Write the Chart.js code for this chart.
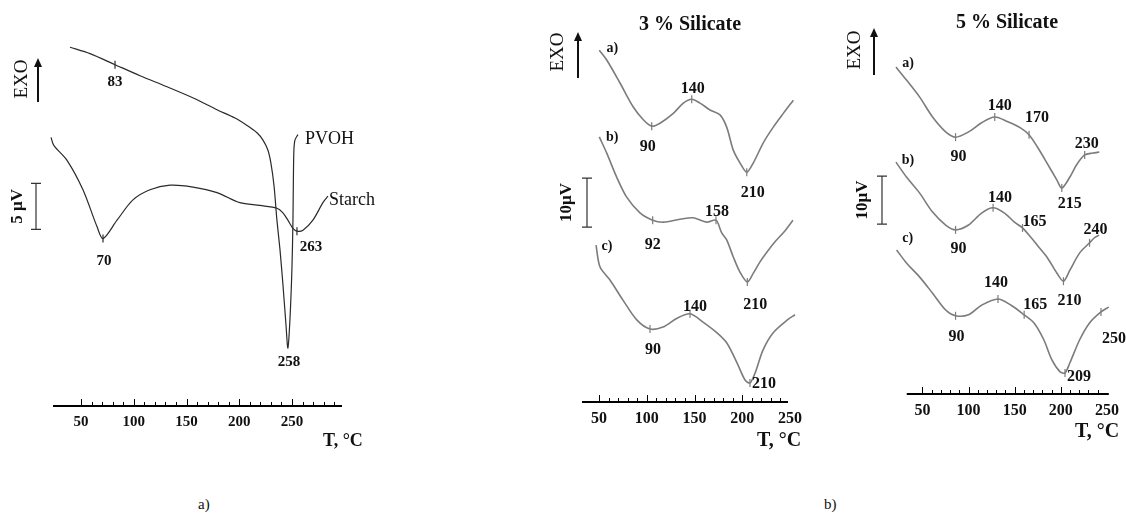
<!DOCTYPE html>
<html>
<head>
<meta charset="utf-8">
<script src="https://cdn.jsdelivr.net/npm/chart.js@4.4.1/dist/chart.umd.min.js"></script>
<style>
  html, body { margin: 0; padding: 0; background: #fff; }
  #wrap { position: relative; width: 1126px; height: 524px; overflow: hidden; background: #fff; }
  #wrap canvas { position: absolute; top: 0; }
  .cap { position: absolute; font: 15px 'Liberation Serif', 'DejaVu Serif', serif; color: #111; }
</style>
</head>
<body>
<div id="wrap">
  <canvas id="chartA" width="400" height="470" style="left:0px"></canvas>
  <canvas id="chartB3" width="290" height="470" style="left:540px"></canvas>
  <canvas id="chartB5" width="286" height="470" style="left:840px"></canvas>
  <div class="cap" style="left:198px; top:496px">a)</div>
  <div class="cap" style="left:824px; top:496px">b)</div>
</div>
<script>
// --- 1. Data (T in °C, DSC signal in µV with arbitrary zero) ---

// a) pure PVOH and pure starch
const pvohT = [39.5, 58.5, 82.2, 105.9, 131.5, 158.0, 178.9, 195.9, 207.3, 216.8, 222.5, 227.2, 230.0, 232.9, 235.7, 238.6, 241.4, 244.3, 246.1, 248.0, 249.9, 250.9, 251.3, 251.8, 252.8, 255.6];
const pvohV = [39.0, 38.3, 37.1, 35.9, 34.7, 33.4, 32.2, 31.3, 30.5, 29.7, 28.9, 27.8, 26.4, 24.0, 20.2, 17.0, 13.2, 8.8, 6.3, 9.3, 14.8, 20.2, 24.6, 27.8, 28.9, 29.5];
const pvohPeaks = [82.2, 246.1];
const pvohPeakText = ['83', '258'];

const starchT = [21.5, 24.3, 36.7, 51.8, 65.1, 70.8, 84.1, 99.2, 115.3, 134.3, 156.1, 178.9, 200.6, 219.6, 235.7, 241.4, 246.1, 250.9, 254.7, 260.4, 269.8, 279.3, 284.1];
const starchV = [29.2, 28.3, 26.7, 23.5, 19.5, 18.2, 20.2, 22.4, 23.5, 24.0, 23.8, 23.2, 22.1, 21.8, 21.5, 21.0, 20.2, 19.3, 19.0, 19.1, 20.2, 22.1, 22.8];
const starchPeaks = [70.8, 254.7];
const starchPeakText = ['70', '263'];

// b) 3 % silicate, samples a), b), c)
const sil3aT = [50.3, 58.1, 72.0, 85.9, 96.4, 105.2, 113.9, 127.8, 138.3, 147.1, 155.8, 166.2, 176.7, 183.7, 190.6, 197.6, 204.7, 211.6, 222.0, 232.5, 243.0, 253.5];
const sil3aV = [71.8, 69.8, 65.1, 60.2, 57.6, 56.3, 56.9, 58.9, 61.0, 61.8, 61.0, 59.6, 58.6, 56.1, 51.4, 48.8, 46.9, 48.8, 52.9, 56.1, 58.9, 61.6];
const sil3aPeaks = [105.2, 147.1, 204.7];
const sil3aPeakText = ['90', '140', '210'];

const sil3bT = [50.3, 58.1, 68.5, 79.0, 92.9, 106.2, 117.3, 134.8, 148.7, 162.8, 172.5, 178.5, 183.7, 190.6, 197.6, 205.3, 211.6, 218.6, 225.9, 234.3, 243.7, 253.1];
const sil3bV = [54.1, 50.8, 45.9, 41.8, 38.6, 37.1, 36.7, 37.3, 37.6, 36.7, 37.1, 34.5, 33.1, 29.6, 26.5, 24.5, 26.3, 28.6, 30.6, 32.7, 34.7, 37.1];
const sil3bPeaks = [106.2, 172.5, 205.3];
const sil3bPeakText = ['92', '158', '210'];

const sil3cT = [46.9, 51.0, 61.5, 75.1, 89.8, 103.4, 117.0, 131.7, 145.3, 158.9, 173.6, 184.0, 194.5, 202.9, 208.1, 213.4, 221.7, 232.2, 246.9, 255.2];
const sil3cV = [32.0, 27.6, 24.9, 20.8, 16.7, 14.9, 15.3, 17.1, 18.0, 16.3, 14.1, 12.0, 8.0, 4.5, 3.9, 5.9, 10.6, 14.1, 16.7, 17.8];
const sil3cPeaks = [103.4, 145.3, 208.1];
const sil3cPeakText = ['90', '140', '210'];

// b) 5 % silicate, samples a), b), c)
const sil5aT = [21.3, 32.7, 46.8, 61.0, 75.2, 85.9, 100.0, 114.1, 128.4, 142.6, 156.7, 165.6, 174.5, 185.1, 195.7, 201.1, 209.9, 217.0, 225.9, 234.8, 241.8];
const sil5aV = [68.1, 65.4, 61.9, 57.7, 54.6, 53.5, 54.6, 56.5, 57.7, 56.7, 55.4, 54.0, 51.5, 48.1, 44.6, 42.9, 45.2, 47.7, 49.8, 50.2, 50.4];
const sil5aPeaks = [85.9, 128.4, 165.6, 201.1, 225.9];
const sil5aPeakText = ['90', '140', '170', '215', '230'];

const sil5bT = [21.3, 32.7, 46.8, 61.0, 75.2, 85.9, 100.0, 114.1, 126.6, 139.0, 149.7, 158.5, 167.3, 174.5, 185.1, 195.7, 202.9, 209.9, 220.5, 231.2, 236.2, 241.5];
const sil5bV = [48.3, 45.2, 41.9, 37.9, 35.2, 34.2, 35.2, 37.7, 38.8, 37.7, 35.8, 34.6, 32.7, 31.0, 28.5, 25.2, 23.5, 25.8, 29.4, 31.5, 32.5, 33.1];
const sil5bPeaks = [85.9, 126.6, 158.5, 202.9, 231.2];
const sil5bPeakText = ['90', '140', '165', '210', '240'];

const sil5cT = [22.0, 32.7, 46.8, 61.0, 75.2, 85.9, 100.0, 114.1, 131.9, 146.1, 160.3, 171.0, 181.6, 190.4, 199.3, 204.6, 209.9, 220.5, 231.2, 243.6, 252.1];
const sil5cV = [30.0, 27.3, 24.4, 21.0, 17.5, 16.3, 16.5, 18.5, 19.8, 18.5, 16.5, 14.8, 11.3, 7.1, 4.6, 4.4, 6.5, 11.3, 14.8, 17.1, 18.1];
const sil5cPeaks = [85.9, 131.9, 160.3, 204.6, 243.6];
const sil5cPeakText = ['90', '140', '165', '209', '250'];

const tempTicks = [50, 100, 150, 200, 250];

// --- 2. Fonts and helpers ---
const SERIF = "'Liberation Serif', 'DejaVu Serif', serif";
const zip = (t, v) => t.map((x, i) => ({ x: x, y: v[i] }));

// draws the axis line, its ticks, peak ticks, peak temperatures, curve names, EXO arrow, scale bar, titles
const panelMarks = {
  id: 'panelMarks',
  afterDatasetsDraw(chart, args, o) {
    const { ctx, chartArea, scales: { x, y } } = chart;
    const base = chartArea.bottom;
    ctx.save();

    // temperature axis line (shorter than the plotting range)
    ctx.strokeStyle = '#000';
    ctx.lineWidth = 2;
    ctx.beginPath();
    ctx.moveTo(x.getPixelForValue(o.axisFrom), base);
    ctx.lineTo(x.getPixelForValue(o.axisTo), base);
    ctx.stroke();

    // small upward tick marks along the temperature axis
    ctx.lineWidth = 1;
    for (let t = o.ticksFrom; t <= o.ticksTo; t += 10) {
      const px = Math.round(x.getPixelForValue(t)) + 0.5;
      const len = t % 50 === 0 ? 6 : 3;
      ctx.beginPath();
      ctx.moveTo(px, base - 1);
      ctx.lineTo(px, base - 1 - len);
      ctx.stroke();
    }

    chart.data.datasets.forEach(ds => {
      ctx.textAlign = 'center';
      ctx.textBaseline = 'middle';
      ds.peaks.forEach((t, i) => {
        const pt = ds.data.find(p => p.x === t);
        const px = x.getPixelForValue(pt.x);
        const py = y.getPixelForValue(pt.y);
        if (ds.peakTicks[i]) {
          ctx.strokeStyle = ds.borderColor;
          ctx.lineWidth = 1.2;
          ctx.beginPath();
          ctx.moveTo(px, py - 4);
          ctx.lineTo(px, py + 4);
          ctx.stroke();
        }
        const off = ds.labelOffsets[i];
        ctx.fillStyle = '#111';
        ctx.font = o.peakFont;
        ctx.fillText(ds.peakText[i], px + off[0], py + off[1]);
      });
      if (ds.name) {
        const pt = ds.nameAt === 'last' ? ds.data[ds.data.length - 1] : ds.data[0];
        ctx.font = ds.nameFont;
        ctx.fillStyle = '#111';
        ctx.textAlign = ds.nameAt === 'last' ? 'left' : 'center';
        ctx.fillText(ds.name, x.getPixelForValue(pt.x) + ds.nameOffset[0], y.getPixelForValue(pt.y) + ds.nameOffset[1]);
      }
    });

    // EXO label and arrow
    const e = o.exo;
    ctx.fillStyle = '#111';
    ctx.font = '19px ' + SERIF;
    ctx.textAlign = 'center';
    ctx.textBaseline = 'middle';
    ctx.save();
    ctx.translate(e.textX, e.textY);
    ctx.rotate(-Math.PI / 2);
    ctx.fillText('EXO', 0, 0);
    ctx.restore();
    ctx.strokeStyle = '#111';
    ctx.lineWidth = 2;
    ctx.beginPath();
    ctx.moveTo(e.arrowX, e.bottom);
    ctx.lineTo(e.arrowX, e.top + 6);
    ctx.stroke();
    ctx.beginPath();
    ctx.moveTo(e.arrowX, e.top);
    ctx.lineTo(e.arrowX - 4, e.top + 9);
    ctx.lineTo(e.arrowX + 4, e.top + 9);
    ctx.closePath();
    ctx.fill();

    // signal scale bar
    const b = o.bar;
    const y0 = y.getPixelForValue(b.v0), y1 = y.getPixelForValue(b.v1);
    ctx.strokeStyle = '#333';
    ctx.lineWidth = 1.2;
    ctx.beginPath();
    ctx.moveTo(b.x, y0); ctx.lineTo(b.x, y1);
    ctx.moveTo(b.x - 5, y0); ctx.lineTo(b.x + 5, y0);
    ctx.moveTo(b.x - 5, y1); ctx.lineTo(b.x + 5, y1);
    ctx.stroke();
    ctx.save();
    ctx.translate(b.textX, (y0 + y1) / 2);
    ctx.rotate(-Math.PI / 2);
    ctx.font = 'bold 17px ' + SERIF;
    ctx.fillText(b.text, 0, 0);
    ctx.restore();

    // panel title and axis title
    if (o.title) {
      ctx.font = 'bold 20px ' + SERIF;
      ctx.textAlign = 'center';
      ctx.fillText(o.title.text, o.title.x, o.title.y);
    }
    ctx.font = o.axisTitle.font;
    ctx.textAlign = 'left';
    ctx.fillText('T, °C', o.axisTitle.x, o.axisTitle.y);
    ctx.restore();
  }
};

// --- 3. Chart builder ---
function makePanel(canvasId, cfg) {
  return new Chart(document.getElementById(canvasId), {
    type: 'line',
    data: {
      datasets: cfg.curves.map(c => ({
        data: zip(c.t, c.v),
        borderColor: cfg.lineColor,
        borderWidth: cfg.lineWidth,
        pointRadius: 0,
        tension: 0.3,
        fill: false,
        clip: false,
        peaks: c.peaks,
        peakText: c.peakText,
        peakTicks: c.peakTicks,
        labelOffsets: c.labelOffsets,
        name: c.name,
        nameAt: c.nameAt,
        nameFont: c.nameFont,
        nameOffset: c.nameOffset
      }))
    },
    options: {
      responsive: false,
      animation: false,
      events: [],
      layout: { padding: cfg.padding },
      plugins: {
        legend: { display: false },
        tooltip: { enabled: false },
        panelMarks: cfg.marks
      },
      scales: {
        x: {
          type: 'linear',
          min: cfg.tMin,
          max: cfg.tMax,
          afterBuildTicks: s => { s.ticks = tempTicks.map(v => ({ value: v })); },
          afterFit: s => { s.height = 60; },
          grid: { display: false, drawTicks: false },
          border: { display: false },
          ticks: { font: { family: SERIF, weight: 'bold', size: cfg.tickSize }, color: '#111', padding: 7, maxRotation: 0 }
        },
        y: { type: 'linear', display: false, min: 0, max: cfg.vMax }
      }
    },
    plugins: [panelMarks]
  });
}

const ALL = [true, true, true, true, true];

// a) PVOH / Starch
makePanel('chartA', {
  tMin: 21.0, tMax: 297.4, vMax: 40, tickSize: 15,
  padding: { left: 50.47, right: 58, top: 38, bottom: 4 },
  lineColor: '#2a2a2a', lineWidth: 1.2,
  curves: [
    { t: pvohT, v: pvohV, peaks: pvohPeaks, peakText: pvohPeakText, peakTicks: [true, false],
      labelOffsets: [[0, 17], [1, 14]],
      name: 'PVOH', nameAt: 'last', nameFont: '18px ' + SERIF, nameOffset: [7, 5] },
    { t: starchT, v: starchV, peaks: starchPeaks, peakText: starchPeakText, peakTicks: [true, true],
      labelOffsets: [[1, 23], [14, 16]],
      name: 'Starch', nameAt: 'last', nameFont: '18px ' + SERIF, nameOffset: [1, 4] }
  ],
  marks: {
    peakFont: 'bold 15px ' + SERIF, ticksFrom: 50, ticksTo: 290, axisFrom: 23.4, axisTo: 297.4,
    exo: { textX: 22, textY: 79, arrowX: 38, top: 58, bottom: 102 },
    bar: { x: 36, v0: 19.2, v1: 24.2, text: '5 µV', textX: 18 },
    axisTitle: { x: 323, y: 441, font: 'bold 18px ' + SERIF }
  }
});

// b) 3 % Silicate
makePanel('chartB3', {
  tMin: 32.2, tMax: 247.9, vMax: 76, tickSize: 16,
  padding: { left: 42, right: 42, top: 29.6, bottom: 8 },
  lineColor: '#7c7c7c', lineWidth: 1.6,
  curves: [
    { t: sil3aT, v: sil3aV, peaks: sil3aPeaks, peakText: sil3aPeakText, peakTicks: ALL,
      labelOffsets: [[-4, 21], [1, -10], [6, 21]],
      name: 'a)', nameAt: 'first', nameFont: 'bold 14px ' + SERIF, nameOffset: [13, -2] },
    { t: sil3bT, v: sil3bV, peaks: sil3bPeaks, peakText: sil3bPeakText, peakTicks: ALL,
      labelOffsets: [[0, 25], [1, -8], [8, 23]],
      name: 'b)', nameAt: 'first', nameFont: 'bold 14px ' + SERIF, nameOffset: [13, 0] },
    { t: sil3cT, v: sil3cV, peaks: sil3cPeaks, peakText: sil3cPeakText, peakTicks: ALL,
      labelOffsets: [[3, 21], [5, -7], [14, 1]],
      name: 'c)', nameAt: 'first', nameFont: 'bold 14px ' + SERIF, nameOffset: [11, 1] }
  ],
  marks: {
    peakFont: 'bold 16px ' + SERIF, ticksFrom: 50, ticksTo: 240, axisFrom: 32.2, axisTo: 247.9,
    title: { text: '3 % Silicate', x: 150, y: 25 },
    exo: { textX: 18, textY: 52, arrowX: 38, top: 32, bottom: 78 },
    bar: { x: 47, v0: 35.7, v1: 45.7, text: '10µV', textX: 27 },
    axisTitle: { x: 217, y: 441, font: 'bold 20px ' + SERIF }
  }
});

// b) 5 % Silicate
makePanel('chartB5', {
  tMin: 21.0, tMax: 252.1, vMax: 76, tickSize: 16,
  padding: { left: 55.7, right: 13, top: 29.2, bottom: 16 },
  lineColor: '#7c7c7c', lineWidth: 1.6,
  curves: [
    { t: sil5aT, v: sil5aV, peaks: sil5aPeaks, peakText: sil5aPeakText, peakTicks: ALL,
      labelOffsets: [[3, 20], [5, -11], [8, -17], [8, 16], [2, -11]],
      name: 'a)', nameAt: 'first', nameFont: 'bold 14px ' + SERIF, nameOffset: [12, -4] },
    { t: sil5bT, v: sil5bV, peaks: sil5bPeaks, peakText: sil5bPeakText, peakTicks: ALL,
      labelOffsets: [[3, 19], [7, -10], [12, -6], [6, 20], [6, -13]],
      name: 'b)', nameAt: 'first', nameFont: 'bold 14px ' + SERIF, nameOffset: [12, -2] },
    { t: sil5cT, v: sil5cV, peaks: sil5cPeaks, peakText: sil5cPeakText, peakTicks: ALL,
      labelOffsets: [[1, 21], [-2, -16], [11, -10], [14, 4], [13, 27]],
      name: 'c)', nameAt: 'first', nameFont: 'bold 14px ' + SERIF, nameOffset: [11, -12] }
  ],
  marks: {
    peakFont: 'bold 16px ' + SERIF, ticksFrom: 50, ticksTo: 240, axisFrom: 33.0, axisTo: 252.1,
    title: { text: '5 % Silicate', x: 167, y: 23 },
    exo: { textX: 15, textY: 50, arrowX: 34, top: 28, bottom: 75 },
    bar: { x: 42, v0: 35.4, v1: 45.4, text: '10µV', textX: 23 },
    axisTitle: { x: 235, y: 432, font: 'bold 20px ' + SERIF }
  }
});
</script>
</body>
</html>
